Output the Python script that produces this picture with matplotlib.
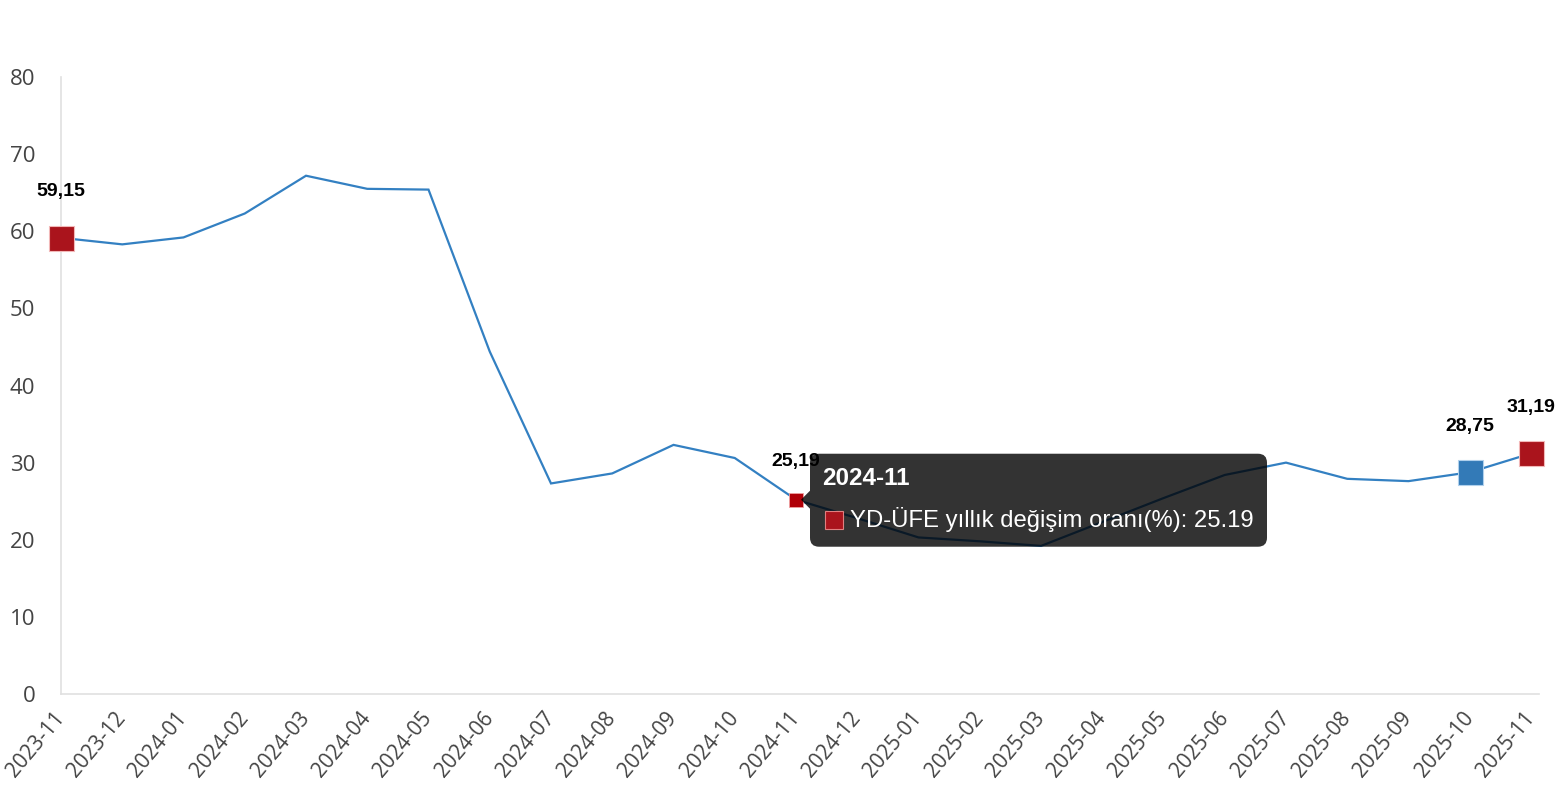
import matplotlib
matplotlib.use("Agg")
import matplotlib.pyplot as plt
from matplotlib.patches import FancyBboxPatch, Polygon, Rectangle
from matplotlib.transforms import IdentityTransform

months = ["2023-11", "2023-12", "2024-01", "2024-02", "2024-03", "2024-04", "2024-05",
          "2024-06", "2024-07", "2024-08", "2024-09", "2024-10", "2024-11", "2024-12",
          "2025-01", "2025-02", "2025-03", "2025-04", "2025-05", "2025-06", "2025-07",
          "2025-08", "2025-09", "2025-10", "2025-11"]
values = [59.15, 58.3, 59.2, 62.3, 67.2, 65.5, 65.4,
          44.4, 27.3, 28.6, 32.3, 30.6, 25.19, 22.8,
          20.3, 19.8, 19.2, 22.3, 25.4, 28.4, 30.0,
          27.9, 27.6, 28.75, 31.19]
y_ticks = [0, 10, 20, 30, 40, 50, 60, 70, 80]
series_name = "YD-ÜFE yıllık değişim oranı(%)"

big_red = [0, 24]
big_blue = [23]
hover_idx = 12

LINE = "#3380c2"
RED = "#aa141c"
BLUE = "#337ab7"

W, H, DPI = 1556, 800, 100
fig = plt.figure(figsize=(W / DPI, H / DPI), dpi=DPI)
ax = fig.add_axes([61 / W, 106 / H, (1539 - 61) / W, (694 - 77) / H])

x = list(range(len(months)))
ax.plot(x, values, color=LINE, lw=1.6, zorder=2, solid_joinstyle="miter")

for i in big_red:
    ax.plot(x[i], values[i], marker="s", ms=18, mfc=RED, mec="#f2b8b8", mew=0.8, zorder=4,
            clip_on=False)
for i in big_blue:
    ax.plot(x[i], values[i], marker="s", ms=18, mfc=BLUE, mec="#b0d0ec", mew=0.8, zorder=4,
            clip_on=False)
ax.plot(x[hover_idx], values[hover_idx], marker="s", ms=9.5, mfc="#b00008", mec="#f0a0a0",
        mew=0.6, zorder=4)

def fmt(v):
    return f"{v:.2f}".replace(".", ",")

for i in big_red + big_blue:
    ax.annotate(fmt(values[i]), (x[i], values[i]), xytext=(0, 33), textcoords="offset points",
                ha="center", va="center", fontsize=14, fontweight="bold",
                family="Liberation Sans", color="black", zorder=5, annotation_clip=False)
ax.annotate(fmt(values[hover_idx]), (x[hover_idx], values[hover_idx]), xytext=(0, 27.5),
            textcoords="offset points", ha="center", va="center", fontsize=14,
            fontweight="bold", family="Liberation Sans", color="black", zorder=5)

ax.set_xlim(0, 24 + 8 / 61.25)
ax.set_ylim(0, 80)
ax.set_yticks(y_ticks)
ax.set_yticklabels([str(t) for t in y_ticks], family="Open Sans", fontsize=16, color="#444444")
ax.set_xticks(x)
ax.set_xticklabels(months, rotation=50, ha="right", va="center", rotation_mode="anchor",
                   family="Open Sans", fontsize=15, color="#444444")
ax.tick_params(axis="y", length=0, pad=18.5)
ax.tick_params(axis="x", length=0, pad=15)
for s in ["top", "right"]:
    ax.spines[s].set_visible(False)
ax.spines["left"].set_color("#e0e0e0")
ax.spines["bottom"].set_color("#e0e0e0")
ax.spines["left"].set_linewidth(1.2)
ax.spines["bottom"].set_linewidth(1.2)

# tooltip anchored to the hovered point (display pixels)
fig.canvas.draw()
px, py = ax.transData.transform((x[hover_idx], values[hover_idx]))
ident = IdentityTransform()
box = FancyBboxPatch((px + 14, py - 47), 457, 93, boxstyle="round,pad=0,rounding_size=9",
                     transform=ident, facecolor="black", edgecolor="none", alpha=0.8,
                     zorder=6)
fig.patches.append(box)
tri = Polygon([(px + 14, py + 9), (px + 14, py - 9), (px + 5, py)], closed=True,
              transform=ident, facecolor="black", edgecolor="none", alpha=0.8, zorder=6)
fig.patches.append(tri)
fig.text((px + 26) / W, (py + 21) / H, months[hover_idx], color="white", fontsize=17.5,
         fontweight="bold", family="Liberation Sans", ha="left", va="center", zorder=7)
sq = Rectangle((px + 29, py - 29), 18, 18, transform=ident, facecolor=RED,
               edgecolor="#e08080", lw=0.8, zorder=7)
fig.patches.append(sq)
fig.text((px + 54) / W, (py - 20) / H, f"{series_name}: {values[hover_idx]:.2f}",
         color="white", fontsize=17.2, family="Liberation Sans", ha="left", va="center", zorder=7)

fig.savefig("out.png", dpi=DPI, facecolor="white")
